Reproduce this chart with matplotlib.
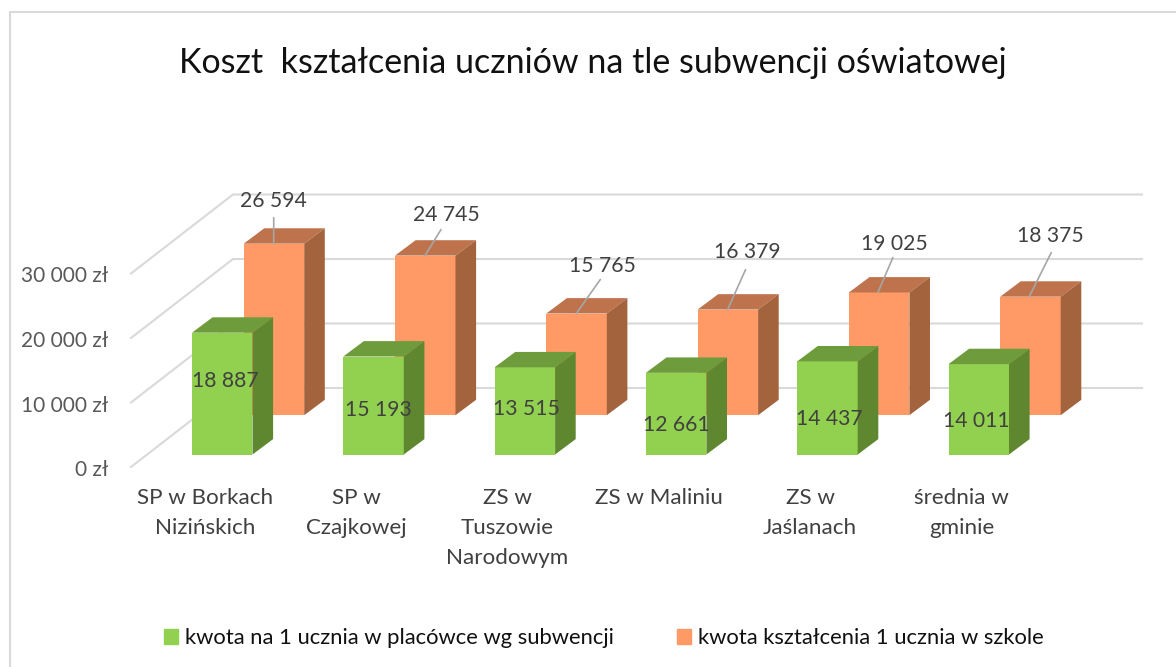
#%%
# -*- coding: utf-8 -*-
import matplotlib
matplotlib.use('Agg')
import matplotlib.pyplot as plt
from matplotlib.patches import Patch

plt.rcParams['font.family'] = ['Lato', 'DejaVu Sans']

#%% dane
categories = ['SP w Borkach\nNizińskich', 'SP w\nCzajkowej', 'ZS w\nTuszowie\nNarodowym',
              'ZS w Maliniu', 'ZS w\nJaślanach', 'średnia w\ngminie']
subwencja = [18887, 15193, 13515, 12661, 14437, 14011]
koszt = [26594, 24745, 15765, 16379, 19025, 18375]
y_ticks = [0, 10000, 20000, 30000]
y_labels = ['0 zł', '10 000 zł', '20 000 zł', '30 000 zł']
name_subwencja = 'kwota na 1 ucznia w placówce wg subwencji'
name_koszt = 'kwota kształcenia 1 ucznia w szkole'
title = 'Koszt  kształcenia uczniów na tle subwencji oświatowej'

#%% uklad (px)
W, H = 1176, 667
PX_X = 151.3       # px per kategoria
PX_Y = 0.00645     # px per zl
X0, Y0 = 192, 454.5  # lewy dolny rog pierwszego zielonego slupka
BAR_W = 60.5 / PX_X
DEPTH_X = 20.6 / PX_X
DEPTH_Y = 15.4 / PX_Y
SHIFT_X = 51.7 / PX_X    # przesuniecie drugiej serii
SHIFT_Y = 39.3 / PX_Y


def fmt(v):
    return f'{v:,}'.replace(',', ' ')


def bar3d(ax, x, base, val, front, top, side, z):
    ax.bar(x, val, BAR_W, bottom=base, align='edge', color=front, zorder=z)
    h = base + val
    ax.fill([x, x + BAR_W, x + BAR_W + DEPTH_X, x + DEPTH_X],
            [h, h, h + DEPTH_Y, h + DEPTH_Y], color=top, lw=0, zorder=z)
    ax.fill([x + BAR_W, x + BAR_W + DEPTH_X, x + BAR_W + DEPTH_X, x + BAR_W],
            [base, base + DEPTH_Y, h + DEPTH_Y, h], color=side, lw=0, zorder=z)


fig = plt.figure(figsize=(W / 100, H / 100), dpi=100)
ax = fig.add_axes([0, 0, 1, 1])
ax.set_xlim(-X0 / PX_X, (W - X0) / PX_X)
ax.set_ylim((Y0 - H) / PX_Y, Y0 / PX_Y)
ax.axis('off')

# ramka: tylko lewa i gorna krawedz widoczna na obrazku
fig.add_artist(plt.Line2D([10 / W, 10 / W, 1], [0, 1 - 12 / H, 1 - 12 / H], transform=fig.transFigure,
                          color='#D9D9D9', lw=1.5))

# siatka: sciana boczna i tylna
x_front = (131 - X0) / PX_X
x_back = (233 - X0) / PX_X
x_end = (1142 - X0) / PX_X
y_front = -12.5 / PX_Y
y_back = 66.5 / PX_Y
for v, lab in zip(y_ticks, y_labels):
    ax.plot([x_front, x_back, x_end], [v + y_front, v + y_back, v + y_back],
            color='#D9D9D9', lw=1.5, zorder=1)
    ax.text((108 - X0) / PX_X, v + y_front - 3 / PX_Y, lab, ha='right', va='center',
            fontsize=15, color='#595959')

# slupki, najpierw tylna seria
for i, (a, b) in enumerate(zip(subwencja, koszt)):
    bar3d(ax, i + SHIFT_X, SHIFT_Y, b, '#FF9966', '#BF734D', '#A3633D', 2)
    bar3d(ax, i, 0, a, '#92D050', '#6E9C3C', '#5E8730', 3)

# etykiety danych: przesuniecia w px
green_off = [(33, -48), (35, -53), (32, -42), (30, -52), (32, -58), (28, -57)]
orange_txt = [(30, 43), (51, 41), (56, 48), (50, 58), (45, 48), (50, 61)]
# leader: poczatek na przedniej krawedzi, koniec wzgledem poczatku
orange_start = [30, 30, 30, 30, 29, 29]
orange_lin = [(0, 26), (16, 26), (24, 34), (18, 40), (15, 35), (22, 44)]
for i, (a, b) in enumerate(zip(subwencja, koszt)):
    ax.annotate(fmt(a), (i, a), xytext=green_off[i], textcoords='offset pixels',
                ha='center', va='center', fontsize=15.2, color='#404040', zorder=5)
    xb = i + SHIFT_X
    yb = SHIFT_Y + b
    ax.annotate(fmt(b), (xb, yb), xytext=orange_txt[i], textcoords='offset pixels',
                ha='center', va='center', fontsize=15.2, color='#404040', zorder=5)
    ax.annotate('', (xb + orange_start[i] / PX_X, yb), xytext=orange_lin[i], textcoords='offset pixels',
                arrowprops=dict(arrowstyle='-', color='#A6A6A6', lw=1.2, shrinkA=0, shrinkB=0), zorder=4)

# etykiety kategorii
for i, c in enumerate(categories):
    ax.text(i + (205 - X0) / PX_X, (Y0 - 488) / PX_Y, c, ha='center', va='top',
            fontsize=16.1, color='#404040', linespacing=1.62)

fig.text(593 / W, 1 - 63 / H, title, ha='center', va='center', fontsize=24.5, color='#111111')

handles = [Patch(color='#92D050', label=name_subwencja), Patch(color='#FF9966', label=name_koszt)]
fig.legend(handles=handles, loc='center', bbox_to_anchor=(604 / W, 1 - 638 / H), ncol=2, frameon=False,
           fontsize=15.8, handlelength=0.64, handleheight=0.64, handletextpad=0.32, columnspacing=2.85,
           labelcolor='#111111')

fig.savefig('out.png', dpi=100)
